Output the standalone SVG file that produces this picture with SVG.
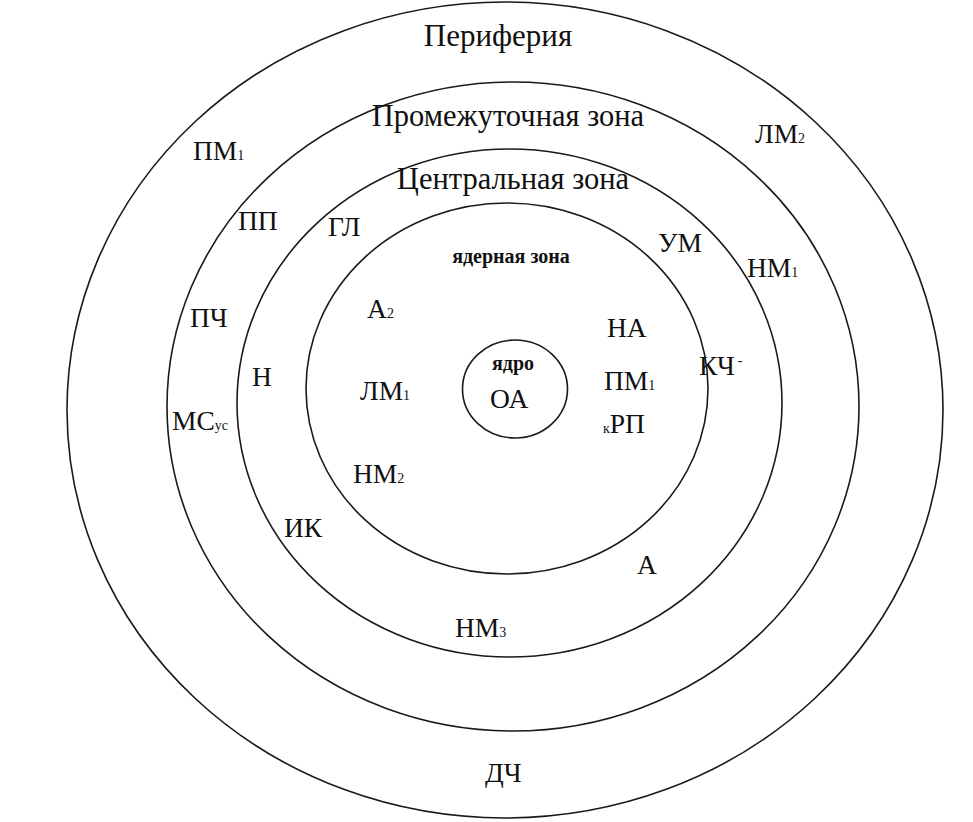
<svg xmlns="http://www.w3.org/2000/svg" width="973" height="822" viewBox="0 0 973 822">
<style>
.ring{fill:none;stroke:#1a1a1a;stroke-width:1.6}
.t{font-size:31px}
.z{font-size:30.5px}
.l{font-size:27.5px}
.b{font-size:20px;font-weight:bold}
.s{font-size:14px}
</style>
<rect width="973" height="822" fill="#fff"/>
<g id="rings">
<ellipse id="periphery" class="ring" cx="505" cy="410" rx="438" ry="408"/>
<ellipse id="intermediate" class="ring" cx="513" cy="406.5" rx="346" ry="324.5"/>
<ellipse id="central" class="ring" cx="509.5" cy="403" rx="272.5" ry="254"/>
<ellipse id="nuclear" class="ring" cx="507" cy="388.5" rx="201" ry="185.5"/>
<ellipse id="core" class="ring" cx="515" cy="389" rx="52.5" ry="49"/>
</g>
<g id="zone-titles" font-family="'Liberation Serif', 'Times New Roman', 'DejaVu Serif', serif" fill="#111">
<text class="t" x="498" y="46" text-anchor="middle">Периферия</text>
<text class="z" x="508" y="126" text-anchor="middle">Промежуточная зона</text>
<text class="z" x="513" y="189" text-anchor="middle">Центральная зона</text>
<text class="b" x="511" y="263" text-anchor="middle">ядерная зона</text>
<text class="b" x="513" y="370" text-anchor="middle">ядро</text>
</g>
<g id="labels" font-family="'Liberation Serif', 'Times New Roman', 'DejaVu Serif', serif" fill="#111">
<text class="l" x="490" y="408">ОА</text>
<text class="l" x="193" y="160">ПМ<tspan class="s">1</tspan></text>
<text class="l" x="755" y="143">ЛМ<tspan class="s">2</tspan></text>
<text class="l" x="238" y="230">ПП</text>
<text class="l" x="328" y="236">ГЛ</text>
<text class="l" x="658" y="252">УМ</text>
<text class="l" x="747" y="277">НМ<tspan class="s">1</tspan></text>
<text class="l" x="190" y="327">ПЧ</text>
<text class="l" x="367" y="318">А<tspan class="s">2</tspan></text>
<text class="l" x="607" y="337">НА</text>
<text class="l" x="252" y="386">Н</text>
<text class="l" x="360" y="400">ЛМ<tspan class="s">1</tspan></text>
<text class="l" x="604" y="390">ПМ<tspan class="s">1</tspan></text>
<text class="l" x="699" y="375">КЧ<tspan class="s" dx="3" dy="-10">-</tspan></text>
<text class="l" x="172" y="430">МС<tspan class="s">ус</tspan></text>
<text class="l" x="603" y="433"><tspan class="s">к</tspan>РП</text>
<text class="l" x="353" y="483">НМ<tspan class="s">2</tspan></text>
<text class="l" x="284" y="537">ИК</text>
<text class="l" x="637" y="574">А</text>
<text class="l" x="455" y="637">НМ<tspan class="s">3</tspan></text>
<text class="l" x="485" y="782">ДЧ</text>
</g>
</svg>
